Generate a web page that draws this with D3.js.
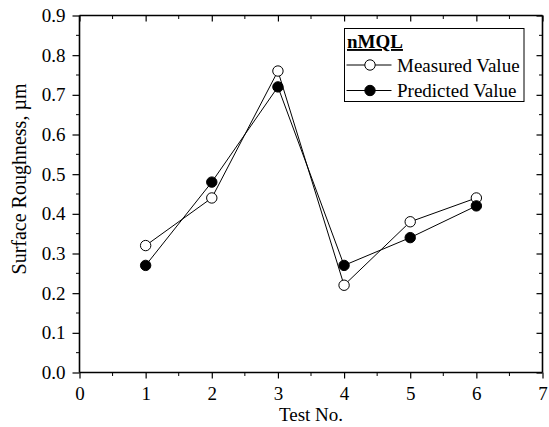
<!DOCTYPE html>
<html>
<head>
<meta charset="utf-8">
<script src="https://cdn.jsdelivr.net/npm/d3@7"></script>
<style>
  html, body { margin: 0; padding: 0; background: #fff; }
  svg { display: block; }
  text { font-family: "Liberation Serif", "Times New Roman", serif; fill: #000; }
</style>
</head>
<body>
<svg id="chart" width="549" height="427"></svg>
<script>
// Surface roughness per test run under nMQL
const tests = [1, 2, 3, 4, 5, 6];
const measured = [0.32, 0.44, 0.76, 0.22, 0.38, 0.44];
const predicted = [0.27, 0.48, 0.72, 0.27, 0.34, 0.42];
const xTicks = [0, 1, 2, 3, 4, 5, 6, 7];
const yTicks = [0.0, 0.1, 0.2, 0.3, 0.4, 0.5, 0.6, 0.7, 0.8, 0.9];
const seriesNames = ["Measured Value", "Predicted Value"];
const legendTitle = "nMQL";

const FS = 19;
const svg = d3.select("#chart");
const plotL = 79.5, plotR = 542.5, plotT = 15.5, plotB = 372.5;

const x = d3.scaleLinear().domain([0, 7]).range([plotL, plotR]);
const y = d3.scaleLinear().domain([0, 0.9]).range([plotB, plotT]);

const xMinor = d3.range(0.5, 7, 1);
const yMinor = d3.range(0.05, 0.9, 0.1);

// Bottom axis: outward ticks
const gx = svg.append("g").attr("transform", `translate(0,${plotB})`)
  .call(d3.axisBottom(x).tickValues(xTicks).tickFormat(d3.format("d")).tickSize(6).tickPadding(8));
gx.append("g").selectAll("line").data(xMinor).join("line")
  .attr("x1", d => x(d)).attr("x2", d => x(d)).attr("y1", 0).attr("y2", 3.5).attr("stroke", "#000");

// Left axis: outward ticks
const gy = svg.append("g").attr("transform", `translate(${plotL},0)`)
  .call(d3.axisLeft(y).tickValues(yTicks).tickFormat(d3.format(".1f")).tickSize(7).tickPadding(7));
gy.append("g").selectAll("line").data(yMinor).join("line")
  .attr("y1", d => y(d)).attr("y2", d => y(d)).attr("x1", 0).attr("x2", -3.5).attr("stroke", "#000");

// Top and right: inward ticks, no labels
const gt = svg.append("g").attr("transform", `translate(0,${plotT})`)
  .call(d3.axisTop(x).tickValues(xTicks).tickFormat("").tickSize(-6));
gt.append("g").selectAll("line").data(xMinor).join("line")
  .attr("x1", d => x(d)).attr("x2", d => x(d)).attr("y1", 0).attr("y2", 3.5).attr("stroke", "#000");
const gr = svg.append("g").attr("transform", `translate(${plotR},0)`)
  .call(d3.axisRight(y).tickValues(yTicks).tickFormat("").tickSize(-6));
gr.append("g").selectAll("line").data(yMinor).join("line")
  .attr("y1", d => y(d)).attr("y2", d => y(d)).attr("x1", 0).attr("x2", -3.5).attr("stroke", "#000");

[gx, gy, gt, gr].forEach(g => {
  g.select(".domain").attr("stroke", "#000").attr("stroke-width", 1.6);
  g.selectAll(".tick line").attr("stroke", "#000").attr("stroke-width", 1.2);
  g.selectAll("text").attr("font-size", FS).attr("font-family", "Liberation Serif, serif").attr("fill", "#000");
});
gy.select(".domain").attr("d", `M0,${plotT}V${plotB}`);
gx.select(".domain").attr("d", `M${plotL},0H${plotR}`);
gt.select(".domain").attr("d", `M${plotL},0H${plotR}`);
gr.select(".domain").attr("d", `M0,${plotT}V${plotB}`);

// Axis titles
svg.append("text").attr("x", (plotL + plotR) / 2).attr("y", 421)
  .attr("text-anchor", "middle").attr("font-size", FS).text("Test No.");
svg.append("text").attr("transform", "translate(26,179) rotate(-90)")
  .attr("text-anchor", "middle").attr("font-size", 20).text("Surface Roughness, µm");

// Series
const line = d3.line().x((d, i) => x(tests[i])).y(d => y(d));
const series = [
  { values: measured, fill: "#fff" },
  { values: predicted, fill: "#000" }
];
series.forEach(s => {
  svg.append("path").datum(s.values).attr("d", line)
    .attr("fill", "none").attr("stroke", "#000").attr("stroke-width", 1);
});
series.forEach(s => {
  svg.append("g").selectAll("circle").data(s.values).join("circle")
    .attr("cx", (d, i) => x(tests[i])).attr("cy", d => y(d)).attr("r", 5.2)
    .attr("fill", s.fill).attr("stroke", "#000").attr("stroke-width", 1);
});

// Legend
const lg = svg.append("g").attr("transform", "translate(344.5,28.5)");
lg.append("rect").attr("width", 179.5).attr("height", 73)
  .attr("fill", "#fff").attr("stroke", "#000").attr("stroke-width", 1);
lg.append("text").attr("x", 2.5).attr("y", 19.5).attr("font-size", FS)
  .attr("font-weight", "bold").attr("text-decoration", "underline").text(legendTitle);
seriesNames.forEach((name, i) => {
  const cy = 36.5 + i * 25.5;
  lg.append("line").attr("x1", 2).attr("x2", 47).attr("y1", cy).attr("y2", cy)
    .attr("stroke", "#000").attr("stroke-width", 1);
  lg.append("circle").attr("cx", 25.5).attr("cy", cy).attr("r", 5.2)
    .attr("fill", series[i].fill).attr("stroke", "#000");
  lg.append("text").attr("x", 52.5).attr("y", cy + 6.5).attr("font-size", FS).text(name);
});
</script>
</body>
</html>
